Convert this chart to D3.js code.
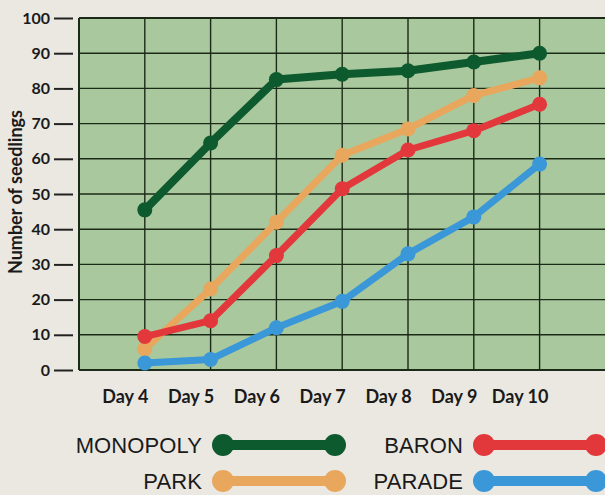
<!DOCTYPE html>
<html>
<head>
<meta charset="utf-8">
<script src="https://cdn.jsdelivr.net/npm/d3@7"></script>
<style>
  html, body { margin: 0; padding: 0; background: #ebe8e1; }
  svg { display: block; }
</style>
</head>
<body>
<div id="chart"></div>
<script>
// ---------- data ----------
const days = [4, 5, 6, 7, 8, 9, 10];
const dayLabels = ['Day 4', 'Day 5', 'Day 6', 'Day 7', 'Day 8', 'Day 9', 'Day 10'];
const yTicks = [0, 10, 20, 30, 40, 50, 60, 70, 80, 90, 100];

const monopoly = [45.5, 64.5, 82.5, 84, 85, 87.5, 90];
const park     = [6, 23, 42, 61, 68.5, 78, 83];
const baron    = [9.5, 14, 32.5, 51.5, 62.5, 68, 75.5];
const parade   = [2, 3, 12, 19.5, 33, 43.5, 58.5];

const seriesNames = ['PARK', 'PARADE', 'BARON', 'MONOPOLY'];
const seriesValues = [park, parade, baron, monopoly];
const seriesColors = ['#e9a75e', '#3a98d8', '#e2383c', '#0e5a2f'];
const legendOrder = ['MONOPOLY', 'BARON', 'PARK', 'PARADE'];

const width = 605, height = 495;
const labelFont = 'Lato, "Open Sans", sans-serif';

const svg = d3.select('#chart').append('svg')
  .attr('width', width)
  .attr('height', height);

// plot spans day 3 .. day 11, only 4..10 labelled
const x = d3.scaleLinear().domain([3, 11]).range([79, 605.4]);
const y = d3.scaleLinear().domain([0, 100]).range([370, 18]);

const color = d3.scaleOrdinal().domain(seriesNames).range(seriesColors);

// ---------- plot background + grid ----------
svg.append('rect')
  .attr('x', x(3)).attr('y', y(100))
  .attr('width', x(11) - x(3)).attr('height', y(0) - y(100))
  .attr('fill', '#a9c89d');

const grid = svg.append('g').attr('stroke', '#1c2a18');
grid.selectAll('line.h')
  .data(yTicks)
  .join('line')
  .attr('class', 'h')
  .attr('x1', x(3)).attr('x2', x(11))
  .attr('y1', d => y(d)).attr('y2', d => y(d))
  .attr('stroke-width', d => d === 0 || d === 100 ? 2 : 1.4);
grid.selectAll('line.v')
  .data([3].concat(days))
  .join('line')
  .attr('class', 'v')
  .attr('x1', d => x(d)).attr('x2', d => x(d))
  .attr('y1', y(100)).attr('y2', y(0))
  .attr('stroke-width', d => d === 3 ? 2 : 1.4);

// ---------- y axis (ticks detached from frame) ----------
const yAxis = d3.axisLeft(y).tickValues(yTicks).tickSize(19).tickPadding(4);
const yg = svg.append('g')
  .attr('transform', 'translate(73,0)')
  .call(yAxis);
yg.select('.domain').remove();
yg.selectAll('.tick line').attr('stroke', '#222').attr('stroke-width', 2);
yg.selectAll('.tick text')
  .attr('fill', '#1a1a1a')
  .style('font-family', labelFont)
  .style('font-weight', 700)
  .style('font-size', '16px');

svg.append('text')
  .attr('transform', 'translate(22,192) rotate(-90)')
  .attr('text-anchor', 'middle')
  .style('font-family', labelFont)
  .style('font-weight', 700)
  .style('font-size', '18px')
  .attr('fill', '#1a1a1a')
  .text('Number of seedlings');

// ---------- x labels (set a little left of each grid line) ----------
const xAxis = d3.axisBottom(x).tickValues(days)
  .tickFormat((d, i) => dayLabels[i]).tickSize(0).tickPadding(0);
const xg = svg.append('g')
  .attr('transform', 'translate(-20,' + (y(0) + 20) + ')')
  .call(xAxis);
xg.select('.domain').remove();
xg.selectAll('.tick text')
  .attr('fill', '#1a1a1a')
  .style('font-family', labelFont)
  .style('font-weight', 700)
  .style('font-size', '18px');

// ---------- series ----------
const line = d3.line().x((d, i) => x(days[i])).y(d => y(d));
const seriesG = svg.append('g');
seriesNames.forEach((name, k) => {
  const g = seriesG.append('g');
  g.append('path')
    .datum(seriesValues[k])
    .attr('d', line)
    .attr('fill', 'none')
    .attr('stroke', color(name))
    .attr('stroke-width', name === 'MONOPOLY' ? 8 : 7)
    .attr('stroke-linejoin', 'round');
  g.selectAll('circle')
    .data(seriesValues[k])
    .join('circle')
    .attr('cx', (d, i) => x(days[i]))
    .attr('cy', d => y(d))
    .attr('r', 7.5)
    .attr('fill', color(name));
});

// ---------- legend ----------
const legend = svg.append('g');
const lg = legend.selectAll('g')
  .data(legendOrder)
  .join('g')
  .attr('transform', (d, i) => 'translate(' + (i % 2 === 0 ? 202 : 463) + ',' + (i < 2 ? 445 : 481) + ')');
lg.append('text')
  .attr('text-anchor', 'end')
  .attr('dy', '0.35em')
  .style('font-family', '"Liberation Sans", Arial, sans-serif')
  .style('font-size', '22px')
  .style('letter-spacing', '0.1px')
  .attr('fill', '#1a1a1a')
  .text(d => d);
lg.append('line')
  .attr('x1', 21).attr('x2', 133)
  .attr('stroke', d => color(d))
  .attr('stroke-width', 10);
lg.selectAll('circle')
  .data(d => [21, 133].map(cx => ({ cx, name: d })))
  .join('circle')
  .attr('cx', d => d.cx)
  .attr('r', 11)
  .attr('fill', d => color(d.name));
</script>
</body>
</html>
